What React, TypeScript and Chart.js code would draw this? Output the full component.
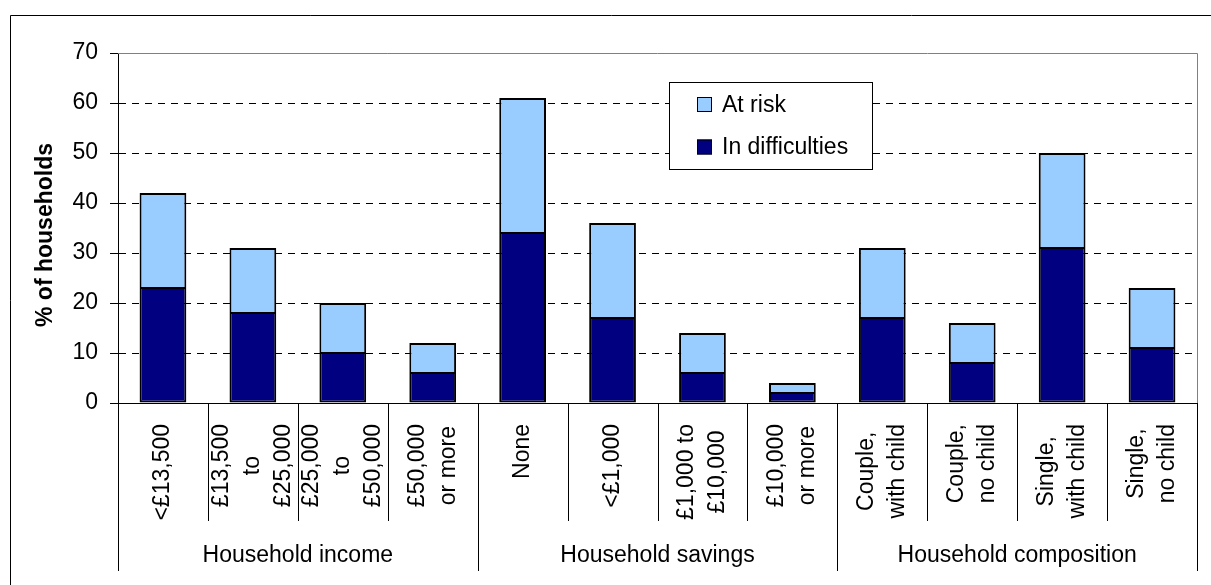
import React, { useEffect, useRef } from "react";
import { Chart, registerables } from "chart.js";

Chart.register(...registerables);

// ---------- data ----------
const categories: string[][] = [
  ["<£13,500"],
  ["£13,500", "to", "£25,000"],
  ["£25,000", "to", "£50,000"],
  ["£50,000", "or more"],
  ["None"],
  ["<£1,000"],
  ["£1,000 to", "£10,000"],
  ["£10,000", "or more"],
  ["Couple,", "with child"],
  ["Couple,", "no child"],
  ["Single,", "with child"],
  ["Single,", "no child"],
];
const groupLabels = ["Household income", "Household savings", "Household composition"];
const groupSizes = [4, 4, 4];
const inDifficulties = [23, 18, 10, 6, 34, 17, 6, 2, 17, 8, 31, 11];
const atRisk = [19, 13, 10, 6, 27, 19, 8, 2, 14, 8, 19, 12];
const yAxisTitle = "% of households";
const yMin = 0;
const yMax = 70;
const yStep = 10;

// ---------- style ----------
const FONT = "'Liberation Sans', Arial, sans-serif";
const FS = 23;
const DARK = "#000080";
const LIGHT = "#99CCFF";

const decorPlugin = {
  id: "decor",
  afterDraw(chart: any) {
    const ctx: CanvasRenderingContext2D = chart.ctx;
    const area = chart.chartArea;
    const xs = chart.scales.x;
    const n = categories.length;
    ctx.save();

    // outer chart border (top + left visible)
    ctx.strokeStyle = "#000";
    ctx.lineWidth = 1;
    ctx.beginPath();
    ctx.moveTo(10.5, 600);
    ctx.lineTo(10.5, 15.5);
    ctx.lineTo(1220, 15.5);
    ctx.stroke();

    // plot area border (top + right, gray)
    ctx.strokeStyle = "#808080";
    ctx.beginPath();
    ctx.moveTo(area.left, Math.round(area.top) + 0.5);
    ctx.lineTo(Math.round(area.right) + 0.5, Math.round(area.top) + 0.5);
    ctx.lineTo(Math.round(area.right) + 0.5, Math.round(area.bottom));
    ctx.stroke();

    // category boundaries
    const bounds: number[] = [];
    for (let i = 0; i <= n; i++) {
      if (i === 0) bounds.push(area.left);
      else if (i === n) bounds.push(area.right);
      else bounds.push((xs.getPixelForValue(i - 1) + xs.getPixelForValue(i)) / 2);
    }
    const groupEdges = new Set<number>();
    let acc = 0;
    groupEdges.add(0);
    groupSizes.forEach((s) => {
      acc += s;
      groupEdges.add(acc);
    });
    const axisY = Math.round(area.bottom);
    ctx.strokeStyle = "#000";
    bounds.forEach((bx, i) => {
      const x = Math.round(bx) + 0.5;
      ctx.beginPath();
      ctx.moveTo(x, axisY);
      ctx.lineTo(x, groupEdges.has(i) ? axisY + 168 : axisY + 118);
      ctx.stroke();
    });

    // rotated category labels
    ctx.fillStyle = "#000";
    ctx.font = `${FS}px ${FONT}`;
    ctx.textAlign = "center";
    ctx.textBaseline = "middle";
    const lineH = 31;
    categories.forEach((lines, i) => {
      const cx = xs.getPixelForValue(i);
      const maxW = Math.max(...lines.map((l) => ctx.measureText(l).width));
      const cy = axisY + 21 + maxW / 2;
      lines.forEach((l, j) => {
        const lx = cx + (j - (lines.length - 1) / 2) * lineH;
        ctx.save();
        ctx.translate(lx, cy);
        ctx.rotate(-Math.PI / 2);
        ctx.fillText(l, 0, 0);
        ctx.restore();
      });
    });

    // group labels
    let start = 0;
    groupSizes.forEach((s, g) => {
      const x0 = bounds[start];
      const x1 = bounds[start + s];
      ctx.fillText(groupLabels[g], (x0 + x1) / 2, axisY + 153);
      start += s;
    });

    // y-axis title
    ctx.save();
    ctx.font = `bold ${FS}px ${FONT}`;
    ctx.translate(46, 235);
    ctx.rotate(-Math.PI / 2);
    ctx.fillText(yAxisTitle, 0, 0);
    ctx.restore();

    // legend (reverse order: At risk on top)
    const lx = 669.5, ly = 82.5, lw = 203, lh = 87;
    ctx.fillStyle = "#fff";
    ctx.fillRect(lx, ly, lw, lh);
    ctx.strokeStyle = "#000";
    ctx.strokeRect(lx, ly, lw, lh);
    const items = [...chart.data.datasets].reverse();
    items.forEach((ds: any, k: number) => {
      const yc = 104.5 + k * 42.5;
      ctx.fillStyle = ds.backgroundColor;
      ctx.fillRect(697, yc - 7.5, 15, 15);
      ctx.strokeStyle = "#000";
      ctx.strokeRect(697.5, yc - 7, 14, 14);
      ctx.fillStyle = "#000";
      ctx.textAlign = "left";
      ctx.font = `${FS}px ${FONT}`;
      ctx.fillText(ds.label, 722, yc + 1);
    });

    ctx.restore();
  },
};

export default function App() {
  const ref = useRef<HTMLCanvasElement | null>(null);
  useEffect(() => {
    if (!ref.current) return;
    const chart = new Chart(ref.current, {
      type: "bar",
      data: {
        labels: categories.map((c) => c.join(" ")),
        datasets: [
          {
            label: "In difficulties",
            data: inDifficulties,
            backgroundColor: DARK,
            borderColor: "#000",
            borderWidth: { top: 1, left: 2, right: 2, bottom: 2 },
            borderSkipped: false,
            barPercentage: 0.52,
            categoryPercentage: 1,
          },
          {
            label: "At risk",
            data: atRisk,
            backgroundColor: LIGHT,
            borderColor: "#000",
            borderWidth: { top: 2, left: 2, right: 2, bottom: 1 },
            borderSkipped: false,
            barPercentage: 0.52,
            categoryPercentage: 1,
          },
        ],
      },
      options: {
        responsive: false,
        animation: false,
        layout: { padding: { top: 53, right: 14, bottom: 182, left: 0 } },
        plugins: {
          legend: { display: false },
          tooltip: { enabled: false },
        },
        scales: {
          x: {
            stacked: true,
            ticks: { display: false },
            grid: { display: false, drawTicks: false },
            border: { display: true, color: "#000", width: 1 },
            afterFit: (s: any) => {
              s.height = 0;
            },
          },
          y: {
            stacked: true,
            min: yMin,
            max: yMax,
            ticks: {
              stepSize: yStep,
              color: "#000",
              padding: 12,
              font: { family: FONT, size: FS },
            },
            grid: {
              color: (c: any) =>
                c.tick && (c.tick.value === yMin || c.tick.value === yMax) ? "rgba(0,0,0,0)" : "#000",
              tickColor: "#000",
              tickLength: 8,
              lineWidth: 1,
            },
            border: { display: true, color: "#000", width: 1, dash: [7, 6] },
            afterFit: (s: any) => {
              s.width = 118;
            },
          },
        },
      },
      plugins: [decorPlugin],
    });
    return () => chart.destroy();
  }, []);
  return (
    <div style={{ position: "fixed", left: 0, top: 0, width: 1211, height: 585, background: "#fff" }}>
      <canvas ref={ref} width={1211} height={585} style={{ display: "block" }} />
    </div>
  );
}
